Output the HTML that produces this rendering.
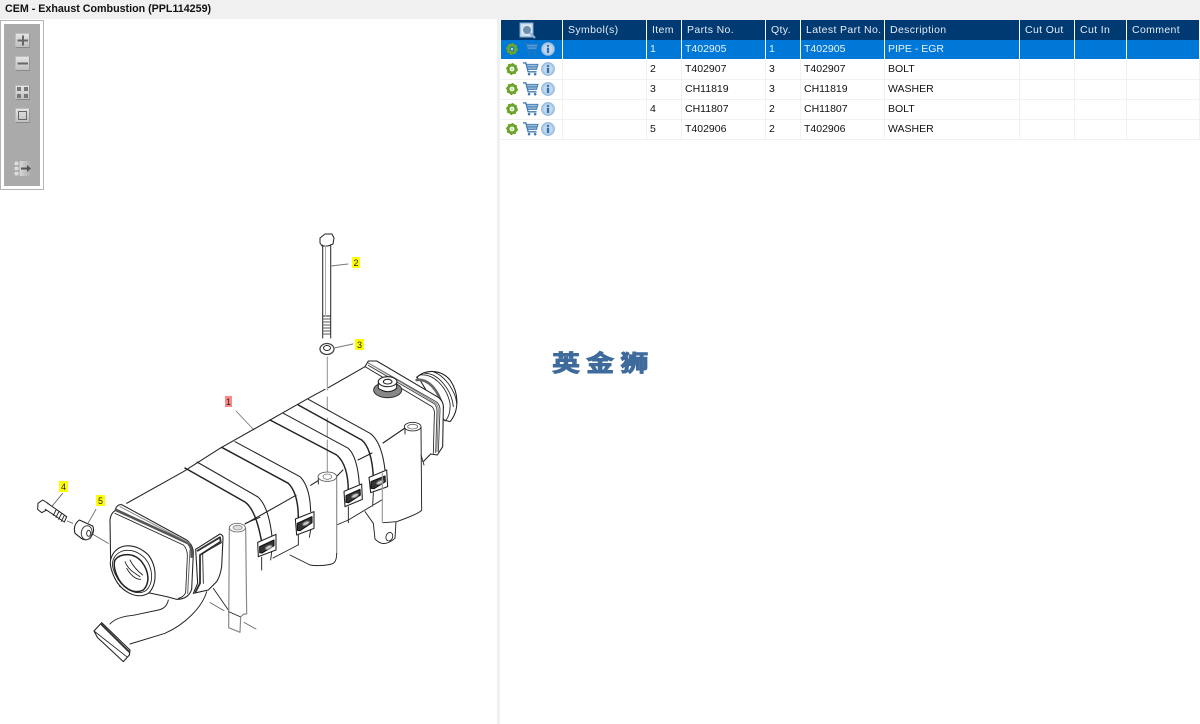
<!DOCTYPE html>
<html lang="en"><head><meta charset="utf-8"><title>CEM - Exhaust Combustion</title>
<style>
html,body{margin:0;padding:0;background:#fff}
body{width:1200px;height:724px;position:relative;overflow:hidden;font-family:"Liberation Sans",sans-serif}
#title{position:absolute;left:0;top:0;width:1200px;height:19px;background:#f0f0f0;font:bold 10.7px/18px "Liberation Sans",sans-serif;color:#111;padding-left:5px;box-sizing:border-box}
#gut{position:absolute;left:497px;top:19px;width:3px;height:705px;background:#f0f0f0}
#top2{position:absolute;left:497px;top:19px;width:703px;height:1px;background:#f0f0f0}
#bar{position:absolute;left:0;top:20px;width:44px;height:170px;box-sizing:border-box;border:1px solid #b4b4b4;background:#fff}
#bar i{position:absolute;left:3px;top:3px;width:36px;height:162px;background:#aaa;display:block}
.btn{position:absolute;left:14px;width:15px;height:15px;box-sizing:border-box;background:linear-gradient(#e4e4e4,#bfbfbf);border:1px solid #bdbdbd;border-bottom-color:#888;border-right-color:#999}
table{position:absolute;left:501px;top:20px;border-collapse:separate;border-spacing:0;table-layout:fixed;width:699px;font-size:10.5px}
th,td{box-sizing:border-box;padding:0 0 1px 3px;overflow:hidden;white-space:nowrap;text-align:left;border-right:1px solid #f0f0f0;border-bottom:1px solid #f0f0f0;height:20px;color:#111;font-weight:normal}
th{background:#003a72;color:#e6ecf4;padding-left:5px;letter-spacing:.36px;border-right:1px solid #fff;border-bottom:0}
tr.s td{background:#0078d7;color:#e8f2fb;border-right:1px solid #fff;border-bottom:1px solid #fff}
td.ic{padding:0}
td.ic svg{display:block}
#logo{position:absolute;left:552px;top:343px;font:bold 23px/36px "Noto Sans CJK SC","Liberation Sans",sans-serif;color:#3e6a9c;letter-spacing:5px;white-space:nowrap;transform:scaleX(1.22);transform-origin:0 0;-webkit-text-stroke:.9px #3e6a9c}
#draw{position:absolute;left:0;top:0}
.lb{font:9px "Liberation Sans",sans-serif;fill:#222;text-anchor:middle}
</style></head><body>
<div id="title">CEM - Exhaust Combustion (PPL114259)</div>
<div id="gut"></div><div id="top2"></div>
<div id="bar"><i></i>
<div class="btn" style="top:12px"><svg width="13" height="13"><path d="M1.500 6.500H12M7 1.500V11.500" stroke="#666" stroke-width="2"/></svg></div>
<div class="btn" style="top:35px"><svg width="13" height="13"><path d="M1.500 6.500H12" stroke="#666" stroke-width="2"/></svg></div>
<div class="btn" style="top:64px"><svg width="13" height="13"><path d="M1 1h4v4H1zM8 1h4v4H8zM1 8h4v4H1zM8 8h4v4H8z" fill="#777"/></svg></div>
<div class="btn" style="top:87px"><svg width="13" height="13"><rect x="2.500" y="2.500" width="8" height="8" fill="none" stroke="#666"/></svg></div>
<div class="btn" style="top:140px;left:13px;width:17px;background:linear-gradient(90deg,#eee,#aaa);border:0"><svg width="17" height="15"><path d="M0 0h5v15H0z" fill="#ddd" stroke="#888" stroke-width=".7"/><path d="M0 5H5M0 10H5" stroke="#888"/><path d="M7 7.500H14" stroke="#555" stroke-width="2"/><path d="M13 4l4 3.500-4 3.500z" fill="#555"/></svg></div>
</div>

<svg width="0" height="0" style="position:absolute"><defs>
<symbol id="gear" viewBox="0 0 14 14"><circle cx="7" cy="7" r="4.500" fill="none" stroke="#6aa52a" stroke-width="3.400"/><circle cx="7" cy="7" r="6.200" fill="none" stroke="#6aa52a" stroke-width="1.600" stroke-dasharray="2 2.800"/><circle cx="7" cy="7" r="1.500" fill="#c8dfa5"/></symbol>
<symbol id="cart" viewBox="0 0 17 15"><path d="M0.500 1H3.500L6 10.500H15" fill="none" stroke="#3f78b0" stroke-width="1.400"/><path d="M4 2.500H16.500L15 8H5.500z" fill="#a9c6e2" stroke="#3f78b0"/><path d="M5 4.500H16M5.500 6.300H15.500" stroke="#3f78b0" stroke-width=".8"/><circle cx="7" cy="13" r="1.400" fill="#3f78b0"/><circle cx="13.500" cy="13" r="1.400" fill="#3f78b0"/></symbol>
<symbol id="info" viewBox="0 0 15 15"><circle cx="7.500" cy="7.500" r="7" fill="#a9c9e8" stroke="#8fb2d6" stroke-width=".8"/><circle cx="7.500" cy="7.500" r="5" fill="#c3d9ef"/><rect x="6.300" y="6.200" width="2.400" height="5.600" fill="#356fa8"/><rect x="6.300" y="3.200" width="2.400" height="2" fill="#356fa8"/></symbol>
</defs></svg>

<table>
<colgroup><col style="width:62px"><col style="width:84px"><col style="width:35px"><col style="width:84px"><col style="width:35px"><col style="width:84px"><col style="width:135px"><col style="width:55px"><col style="width:52px"><col style="width:73px"></colgroup>
<tr><th style="padding:0"><svg width="61" height="20" style="display:block"><rect x="19" y="3" width="13" height="14" fill="#cfe0ef" stroke="#7ea5c9"/><circle cx="26" cy="10" r="4.500" fill="#6d90b0" stroke="#dfe9f2"/><path d="M29 13l5 5" stroke="#8fb2d6" stroke-width="2"/></svg></th><th>Symbol(s)</th><th>Item</th><th>Parts No.</th><th>Qty.</th><th>Latest Part No.</th><th>Description</th><th>Cut Out</th><th>Cut In</th><th>Comment</th></tr>
<tr class="s"><td class="ic"><svg width="61" height="19"><use href="#gear" x="5" y="3" width="12" height="12"/><use href="#cart" x="21" y="2" width="17" height="14" opacity=".55"/><use href="#info" x="40" y="2" width="14" height="14"/></svg></td><td></td><td>1</td><td>T402905</td><td>1</td><td>T402905</td><td>PIPE - EGR</td><td></td><td></td><td></td></tr>
<tr><td class="ic"><svg width="61" height="19"><use href="#gear" x="5" y="3" width="12" height="12"/><use href="#cart" x="21" y="2" width="17" height="14"/><use href="#info" x="40" y="2" width="14" height="14"/></svg></td><td></td><td>2</td><td>T402907</td><td>3</td><td>T402907</td><td>BOLT</td><td></td><td></td><td></td></tr>
<tr><td class="ic"><svg width="61" height="19"><use href="#gear" x="5" y="3" width="12" height="12"/><use href="#cart" x="21" y="2" width="17" height="14"/><use href="#info" x="40" y="2" width="14" height="14"/></svg></td><td></td><td>3</td><td>CH11819</td><td>3</td><td>CH11819</td><td>WASHER</td><td></td><td></td><td></td></tr>
<tr><td class="ic"><svg width="61" height="19"><use href="#gear" x="5" y="3" width="12" height="12"/><use href="#cart" x="21" y="2" width="17" height="14"/><use href="#info" x="40" y="2" width="14" height="14"/></svg></td><td></td><td>4</td><td>CH11807</td><td>2</td><td>CH11807</td><td>BOLT</td><td></td><td></td><td></td></tr>
<tr><td class="ic"><svg width="61" height="19"><use href="#gear" x="5" y="3" width="12" height="12"/><use href="#cart" x="21" y="2" width="17" height="14"/><use href="#info" x="40" y="2" width="14" height="14"/></svg></td><td></td><td>5</td><td>T402906</td><td>2</td><td>T402906</td><td>WASHER</td><td></td><td></td><td></td></tr>
</table>

<div id="logo">英金狮</div>

<svg id="draw" width="497" height="724" viewBox="0 0 497 724" fill="none" stroke="#222" stroke-linejoin="round" stroke-linecap="round">
<!-- bolt 2 and washer 3 -->
<g stroke-width="1">
<path d="M320 238L325 234H332L334 238L333 244L328 246H322L320 243Z" fill="#fff"/>
<path d="M322.700 245V338M330.700 245V338M322.700 316H330.700" />
<path d="M325.500 246V316" stroke="#aaa"/>
<path d="M323 319h7M323 322h7M323 325h7M323 328h7M323 331h7M323 334h7" stroke="#555"/>
<ellipse cx="327" cy="349" rx="7" ry="5.500" stroke="#444" stroke-width="1.300"/><ellipse cx="327" cy="348" rx="3.500" ry="2.500"/>
</g>
<g stroke="#777" stroke-width=".9">
<path d="M331 266L348 264M334 348L353 344"/>
<path d="M327.300 357V390M327.300 397V410M327.300 418V437M327.300 440V472" stroke="#999" stroke-width="1.100"/>
<path d="M236 411L254 430"/>
</g>

<!-- main body in zoom coordinates -->
<g transform="translate(220 340) scale(.33333)" stroke-width="3.200">
<!-- discs -->
<path d="M590 112C620 85 665 90 690 120C715 155 720 210 690 245L672 240L600 120Z" fill="#fff"/>
<path d="M600 105C640 100 680 140 690 190C692 215 685 235 675 243M615 100C655 100 695 150 700 200M640 95C680 110 708 160 710 190" stroke-width="2.600"/>
<path d="M590 120C625 115 655 150 668 200" stroke="#666" stroke-width="8"/>
<!-- flange -->
<path d="M435 80L445 63L470 63L655 172Q672 185 670 205L668 320L652 345L632 342L610 365" fill="#fff"/>
<path d="M445 69L650 186Q660 195 660 210L655 335M445 76L644 192Q651 200 651 215L647 338" stroke="#444" stroke-width="2.800"/>
<path d="M450 72L648 190Q655 198 655 212L651 335" stroke="#888" stroke-width="2.800"/>
<path d="M435 80L636 200Q645 208 643 225L640 340" stroke-width="2.600"/>
<!-- port -->
<ellipse cx="503" cy="150" rx="42" ry="23" fill="#888" stroke="#333"/>
<path d="M475 125V145Q505 165 530 145V125" fill="#fff"/>
<ellipse cx="503" cy="125" rx="28" ry="15" fill="#fff"/><ellipse cx="503" cy="125" rx="13" ry="7" fill="#fff"/>
<!-- top edge -->
<path d="M0 325L265 175L315 148M325 143L435 80"/>
<!-- front edge -->
<path d="M75 552L150 510L228 466M272 436L294 422M348 411L369 390M414 360L456 339M489 309L555 264"/>
<!-- bands -->
<path d="M235 195L425 300Q455 325 460 410" stroke-width="4.400"/>
<path d="M265 178L450 280Q485 305 495 390"/>
<path d="M150 240L350 345Q385 375 385 455" stroke-width="4.400"/>
<path d="M190 220L385 325Q412 350 418 432"/>
<path d="M5 322L205 430Q235 460 235 535" stroke-width="4.400"/>
<path d="M45 305L240 410Q270 440 272 515"/>
<path d="M-105 384L75 486Q108 510 125 606" stroke-width="4.400"/>
<path d="M-69 366L114 471Q146 500 156 590"/>
<!-- clips -->
<g fill="#fff"><path d="M447 412L500 390L503 440L452 458Z"/><path d="M372 454L425 432L427 478L375 500Z"/><path d="M226 537L282 515L282 565L230 585Z"/><path d="M113 607L168 583L168 630L115 650Z"/></g>
<g fill="#333" stroke="#111"><path d="M453 425L495 408L496 425L462 446L453 445Z"/><path d="M378 467L420 448L421 465L386 488L378 487Z"/><path d="M232 550L276 530L276 548L240 572L232 571Z"/><path d="M119 620L162 600L162 617L126 639L119 638Z"/></g>
<g fill="#ccc" stroke="#777"><ellipse cx="480" cy="427" rx="11" ry="5" transform="rotate(-25 480 427)"/><ellipse cx="405" cy="467" rx="11" ry="5" transform="rotate(-25 405 467)"/><ellipse cx="258" cy="550" rx="11" ry="5" transform="rotate(-25 258 550)"/><ellipse cx="146" cy="622" rx="11" ry="5" transform="rotate(-25 146 622)"/></g>
<path d="M460 458L458 498M385 500V548M235 585V615M272 570L268 592M125 652V690M155 635L152 660M159 654L234 615M350 555L385 540L485 480" stroke-width="2.800"/>
<!-- center post -->
<path d="M295 412V432" stroke-width="2.800"/>
<path d="M350 412V640" stroke="#999" stroke-width="4"/>
<path d="M350 640Q350 668 335 672Q300 680 270 675L210 645" stroke-width="2.800"/>
<ellipse cx="322" cy="410" rx="28" ry="14" fill="#fff" stroke="#555" stroke-width="2.600"/>
<ellipse cx="322" cy="410" rx="13" ry="8" fill="#fff" stroke="#777" stroke-width="2.400"/>
<path d="M435 515L460 550L465 597Q490 625 525 595L528 545" stroke-width="2.800"/>
<ellipse cx="508" cy="590" rx="10" ry="13" transform="rotate(20 508 590)" stroke-width="2.600"/>
<!-- right post -->
<path d="M555 263V282M603 262L605 510Q600 520 530 545L490 548" stroke-width="2.800"/>
<path d="M487 400V548" stroke="#999" stroke-width="3.500"/>
<ellipse cx="578" cy="260" rx="25" ry="13" fill="#fff" stroke-width="2.600"/>
<ellipse cx="578" cy="260" rx="15" ry="7" fill="#fff" stroke="#666" stroke-width="2.400"/>
<path d="M603 345L612 375" stroke-width="2.600"/>
</g>

<!-- front assembly in zoom coordinates -->
<g transform="translate(20 460) scale(.33333)" stroke-width="3.200">
<path d="M320 130L490 35L600 -35" />
<!-- front body rear lines -->
<path d="M677 190L720 172" stroke-width="2.800"/>
<path d="M285 152Q290 132 305 134L500 240Q520 255 520 280L515 388Q505 418 470 418L440 410L300 380L272 310L270 180Q272 160 285 152Z" fill="#fff"/>
<path d="M288 150L505 250Q518 265 515 290" stroke="#555" stroke-width="8"/>
<path d="M300 140L510 250" stroke="#888" stroke-width="2.800"/>
<path d="M285 160L490 255Q503 268 502 290L497 398Q490 412 475 415" stroke-width="2.600"/>
<path d="M510 270L503 400" stroke="#666" stroke-width="3"/>
<!-- opening -->
<path d="M275 290C290 250 345 245 385 285C412 320 412 375 385 400C350 420 300 395 280 345C270 320 268 305 275 290Z" fill="#fff"/>
<path d="M280 298C295 265 340 260 375 295C400 325 402 370 378 392C348 410 305 385 287 345C277 325 275 312 280 298Z" stroke-width="2.600"/>
<path d="M285 300C300 280 340 275 365 305C388 335 390 370 370 390C340 405 305 382 290 345C282 325 280 312 285 300Z" fill="#fff" stroke-width="4.500"/>
<path d="M315 305C325 330 345 340 360 350M330 300C340 320 355 335 368 345M320 325C335 350 350 358 362 358" stroke-width="2.600"/>
<!-- side bracket -->
<path d="M527 268L600 222Q610 225 609 235L605 320Q600 350 590 365L565 390L520 400L533 370Z" fill="#fff"/>
<path d="M533 272L600 232L602 245L540 285L540 370L527 395" stroke="#333" stroke-width="5.500"/>
<path d="M548 280L605 248M548 280L550 370" stroke-width="2.600"/>
<!-- pipe to foot -->
<path d="M445 420Q440 445 415 450L340 466Q290 470 270 492" stroke-width="2.800"/>
<path d="M560 395Q550 430 515 465Q480 500 435 520L330 552" stroke-width="2.800"/>
<path d="M222 513L245 488L330 570L328 585L310 605L232 532Z" fill="#fff"/>
<path d="M245 494L328 576" stroke="#333" stroke-width="5.500"/>
<path d="M222 513L320 590" stroke-width="2.600"/>
<!-- post -->
<path d="M580 385L625 450" stroke-width="2.600"/>
<path d="M628 205L626 503L660 517L662 470L672 462L680 462L677 205Z" fill="#fff" stroke="#888" stroke-width="3.500"/>
<path d="M626 455L660 470" stroke-width="2.600"/>
<ellipse cx="652" cy="203" rx="24" ry="13" fill="#fff" stroke="#666" stroke-width="2.600"/>
<ellipse cx="653" cy="203" rx="14" ry="7" fill="#ddd" stroke="#888" stroke-width="2.400"/>
<path d="M570 428L612 452M672 487L708 507M205 215L265 250M228 148L205 188M128 100L95 140M142 183L158 190" stroke="#666" stroke-width="2.600"/>
<!-- bolt 4 -->
<path d="M54 130L68 120L84 130L80 150L65 158L53 148Z" fill="#fff" stroke-width="3"/>
<path d="M83 130L140 170L133 186L76 148" fill="#fff" stroke-width="3"/>
<path d="M108 150L100 166M116 156L108 172M124 162L116 178M132 168L124 184" stroke-width="2.800"/>
<!-- washer 5 -->
<path d="M178 180L218 198Q226 215 210 235Q195 245 180 232L165 220Q158 195 178 180Z" fill="#fff" stroke-width="3.200"/>
<ellipse cx="200" cy="218" rx="16" ry="21" transform="rotate(10 200 218)" fill="#fff" stroke="#444" stroke-width="3"/>
<ellipse cx="206" cy="220" rx="6" ry="9" stroke-width="2.600"/>
</g>

<!-- labels -->
<g stroke="none">
<rect x="352" y="257" width="8" height="11" fill="#ff0"/><text class="lb" x="356" y="266">2</text>
<rect x="355" y="339" width="9" height="11" fill="#ff0"/><text class="lb" x="359.500" y="348">3</text>
<rect x="225" y="396" width="7" height="11" fill="#f88"/><text class="lb" x="228.500" y="405">1</text>
<rect x="59" y="481" width="9" height="11" fill="#ff0"/><text class="lb" x="63.500" y="490">4</text>
<rect x="96" y="495" width="9" height="11" fill="#ff0"/><text class="lb" x="100.500" y="504">5</text>
</g>
</svg>
</body></html>
